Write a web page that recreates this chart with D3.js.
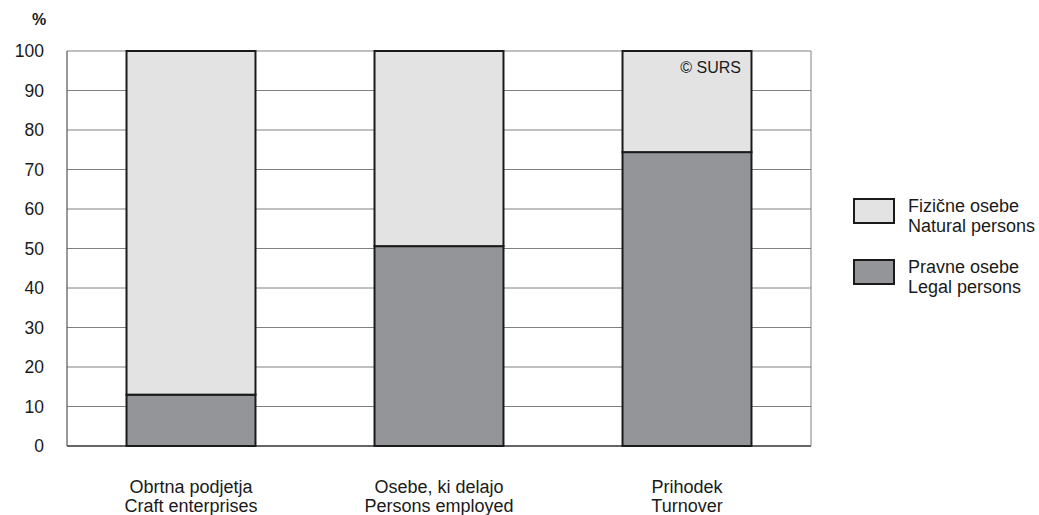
<!DOCTYPE html>
<html>
<head>
<meta charset="utf-8">
<script src="https://d3js.org/d3.v7.min.js"></script>
<style>
  body { margin: 0; background: #fff; }
  text { font-family: "Liberation Sans", Arial, sans-serif; fill: #1a1a1a; }
</style>
</head>
<body>
<div id="viz"></div>
<script>
// categories, two lines each (Slovene / English)
var categories = [
  ["Obrtna podjetja", "Craft enterprises"],
  ["Osebe, ki delajo", "Persons employed"],
  ["Prihodek", "Turnover"]
];
// share of legal persons (%), rest are natural persons
var legal = [13, 50.6, 74.4];
var natural = legal.map(function (v) { return 100 - v; });
var yTicks = [0, 10, 20, 30, 40, 50, 60, 70, 80, 90, 100];
var seriesNames = [
  ["Fizične osebe", "Natural persons"],
  ["Pravne osebe", "Legal persons"]
];
var colors = ["#e3e3e3", "#939598"];

var width = 1039, height = 515;
var plotLeft = 67, plotRight = 811, plotTop = 51, plotBottom = 446;

var svg = d3.select("#viz").append("svg")
  .attr("width", width)
  .attr("height", height);

var x = d3.scaleBand()
  .domain(d3.range(categories.length))
  .range([plotLeft, plotRight])
  .paddingInner(0.48)
  .paddingOuter(0.24);

var y = d3.scaleLinear().domain([0, 100]).range([plotBottom, plotTop]);

// grid lines
svg.append("g").selectAll("line")
  .data(yTicks)
  .enter().append("line")
  .attr("x1", plotLeft).attr("x2", plotRight)
  .attr("y1", function (d) { return y(d); })
  .attr("y2", function (d) { return y(d); })
  .attr("stroke", function (d) { return d == 0 ? "#333" : "#808080"; })
  .attr("stroke-width", function (d) { return d == 0 ? 1.5 : 1; });

// plot frame sides
svg.append("line").attr("x1", plotLeft).attr("x2", plotLeft).attr("y1", plotTop).attr("y2", plotBottom)
  .attr("stroke", "#555").attr("stroke-width", 1.2);
svg.append("line").attr("x1", plotRight).attr("x2", plotRight).attr("y1", plotTop).attr("y2", plotBottom)
  .attr("stroke", "#808080").attr("stroke-width", 1);

// y tick labels
svg.append("g").selectAll("text")
  .data(yTicks)
  .enter().append("text")
  .attr("x", 44)
  .attr("y", function (d) { return y(d) + 6; })
  .attr("text-anchor", "end")
  .style("font-size", "17.5px")
  .text(function (d) { return d; });

svg.append("text")
  .attr("x", 39).attr("y", 25)
  .attr("text-anchor", "middle")
  .style("font-size", "16px")
  .style("font-weight", "bold")
  .text("%");

// stacked bars
var bars = svg.append("g");
categories.forEach(function (c, i) {
  bars.append("rect")
    .attr("x", x(i)).attr("width", x.bandwidth())
    .attr("y", y(legal[i])).attr("height", y(0) - y(legal[i]))
    .attr("fill", colors[1]).attr("stroke", "#1a1a1a").attr("stroke-width", 2);
  bars.append("rect")
    .attr("x", x(i)).attr("width", x.bandwidth())
    .attr("y", y(100)).attr("height", y(legal[i]) - y(100))
    .attr("fill", colors[0]).attr("stroke", "#1a1a1a").attr("stroke-width", 2);
});

// category labels
svg.append("g").selectAll("text")
  .data(categories)
  .enter().append("text")
  .attr("text-anchor", "middle")
  .style("font-size", "18px")
  .each(function (d, i) {
    var t = d3.select(this);
    d.forEach(function (line, j) {
      t.append("tspan")
        .attr("x", x(i) + x.bandwidth() / 2)
        .attr("y", 493 + j * 18.5)
        .text(line);
    });
  });

// copyright
svg.append("text")
  .attr("x", 741).attr("y", 73)
  .attr("text-anchor", "end")
  .style("font-size", "16px")
  .text("© SURS");

// legend
var legend = svg.append("g");
seriesNames.forEach(function (s, i) {
  var ly = 199 + i * 61;
  legend.append("rect")
    .attr("x", 854).attr("y", ly).attr("width", 40).attr("height", 24)
    .attr("fill", colors[i]).attr("stroke", "#1a1a1a").attr("stroke-width", 2);
  var t = legend.append("text").style("font-size", "18px");
  s.forEach(function (line, j) {
    t.append("tspan").attr("x", 908).attr("y", ly + 13 + j * 20).text(line);
  });
});
</script>
</body>
</html>
